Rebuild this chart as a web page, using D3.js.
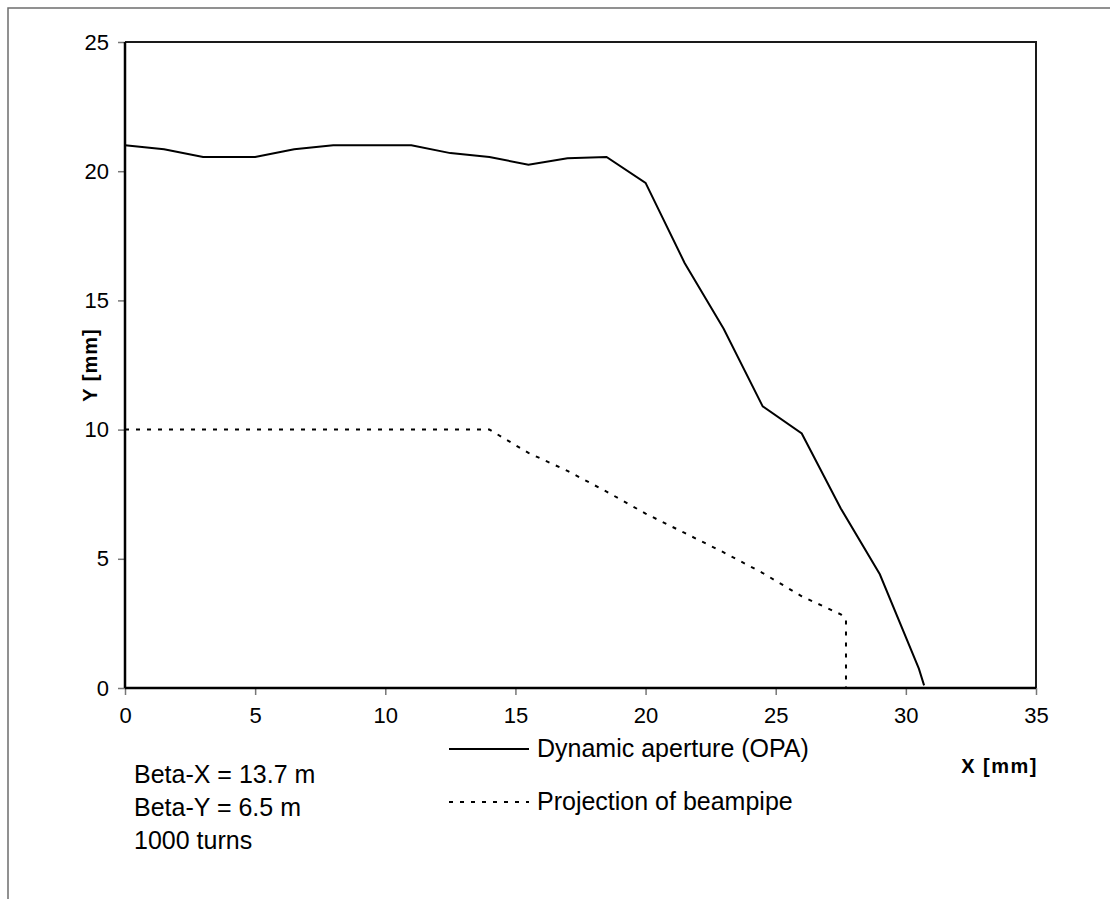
<!DOCTYPE html>
<html>
<head>
<meta charset="utf-8">
<script src="https://cdn.jsdelivr.net/npm/d3@7"></script>
<style>
  body { margin: 0; background: #fff; }
  text { font-family: "Liberation Sans", Arial, sans-serif; fill: #000; }
</style>
</head>
<body>
<div class="svg-container"></div>
<script>
// Dynamic aperture (OPA) curve
var apertureX = [0, 1.5, 3, 5, 6.5, 8, 11, 12.5, 14, 15.5, 17, 18.5, 20, 21.5, 23, 24.5, 26, 27.5, 29, 30.5, 30.7];
var apertureY = [21.0, 20.85, 20.55, 20.55, 20.85, 21.0, 21.0, 20.7, 20.55, 20.25, 20.5, 20.55, 19.55, 16.45, 13.9, 10.9, 9.85, 6.95, 4.4, 0.75, 0.1];

// Projection of beampipe
var pipeX = [0, 14, 15.5, 17, 18.5, 20, 21.5, 23, 24.5, 26, 27.5, 27.7, 27.7];
var pipeY = [10, 10, 9.1, 8.4, 7.6, 6.75, 6.0, 5.25, 4.45, 3.55, 2.85, 2.65, 0];

var xTicks = [0, 5, 10, 15, 20, 25, 30, 35];
var yTicks = [0, 5, 10, 15, 20, 25];
var notes = ["Beta-X = 13.7 m", "Beta-Y = 6.5 m", "1000 turns"];
var legendNames = ["Dynamic aperture (OPA)", "Projection of beampipe"];

var W = 1110, H = 899;
var margin = {top: 42, right: 74, bottom: 211, left: 125},
    width = W - margin.left - margin.right,
    height = H - margin.top - margin.bottom;

var svg = d3.select(".svg-container").append("svg")
    .attr("width", W)
    .attr("height", H);

// outer chart-area border (only top and left are visible)
svg.append("path")
    .attr("d", "M8,899 V8 H1110")
    .style("fill", "none")
    .style("stroke", "#6e6e6e")
    .style("stroke-width", 1.5);

var g = svg.append("g")
    .attr("transform", "translate(" + margin.left + "," + margin.top + ")");

var x = d3.scaleLinear().domain([0, 35]).range([0, width]);
var y = d3.scaleLinear().domain([0, 25]).range([height, 0]);

// plot frame: top and right
g.append("path")
    .attr("d", "M0,0 H" + width + " V" + height)
    .style("fill", "none")
    .style("stroke", "#1a1a1a")
    .style("stroke-width", 2);

// axes
var xAxis = d3.axisBottom(x).tickValues(xTicks).tickSize(7).tickPadding(12);
var yAxis = d3.axisLeft(y).tickValues(yTicks).tickSize(7).tickPadding(9);

var gx = g.append("g")
    .attr("transform", "translate(0," + height + ")")
    .call(xAxis);
var gy = g.append("g").call(yAxis);

[gx, gy].forEach(function(ax) {
    ax.select(".domain").remove();
    ax.selectAll(".tick line").style("stroke", "#777").style("stroke-width", 1.5);
    ax.selectAll(".tick text")
        .style("font-size", "22px")
        .style("font-family", "'Liberation Sans', Arial, sans-serif")
        .attr("fill", "#000");
});

g.append("line")
    .attr("x1", 0).attr("x2", 0).attr("y1", 0).attr("y2", height)
    .style("stroke", "#000").style("stroke-width", 2.5);
g.append("line")
    .attr("x1", 0).attr("x2", width).attr("y1", height).attr("y2", height)
    .style("stroke", "#000").style("stroke-width", 2.5);

// axis titles
g.append("text")
    .attr("transform", "translate(-28," + y(12.5) + ") rotate(-90)")
    .attr("text-anchor", "middle")
    .style("font-size", "20px")
    .style("font-weight", "bold")
    .style("letter-spacing", "1px")
    .text("Y [mm]");

g.append("text")
    .attr("x", x(33.6))
    .attr("y", height + 85)
    .attr("text-anchor", "middle")
    .style("font-size", "20px")
    .style("font-weight", "bold")
    .style("letter-spacing", "1.5px")
    .text("X [mm]");

// series
var line = d3.line()
    .x(function(d) { return x(d[0]); })
    .y(function(d) { return y(d[1]); });

var aperture = apertureX.map(function(v, i) { return [v, apertureY[i]]; });
var pipe = pipeX.map(function(v, i) { return [v, pipeY[i]]; });

g.append("path")
    .datum(pipe)
    .attr("d", line)
    .style("fill", "none")
    .style("stroke", "#000")
    .style("stroke-width", 2)
    .style("stroke-dasharray", "4,7");

g.append("path")
    .datum(aperture)
    .attr("d", line)
    .style("fill", "none")
    .style("stroke", "#000")
    .style("stroke-width", 2);

// notes
svg.append("g").selectAll("text")
    .data(notes)
    .enter()
    .append("text")
        .attr("x", 134)
        .attr("y", function(d, i) { return 783 + i * 33; })
        .style("font-size", "25px")
        .text(function(d) { return d; });

// legend
var legend = svg.append("g").attr("transform", "translate(449,0)");
var legendY = [749, 802];
legend.selectAll("line")
    .data(legendNames)
    .enter()
    .append("line")
        .attr("x1", 0).attr("x2", 80)
        .attr("y1", function(d, i) { return legendY[i]; })
        .attr("y2", function(d, i) { return legendY[i]; })
        .style("stroke", "#000")
        .style("stroke-width", 2)
        .style("stroke-dasharray", function(d, i) { return i ? "4,7" : null; });

legend.selectAll("text")
    .data(legendNames)
    .enter()
    .append("text")
        .attr("x", 88)
        .attr("y", function(d, i) { return legendY[i] + 8; })
        .style("font-size", "25px")
        .text(function(d) { return d; });
</script>
</body>
</html>
